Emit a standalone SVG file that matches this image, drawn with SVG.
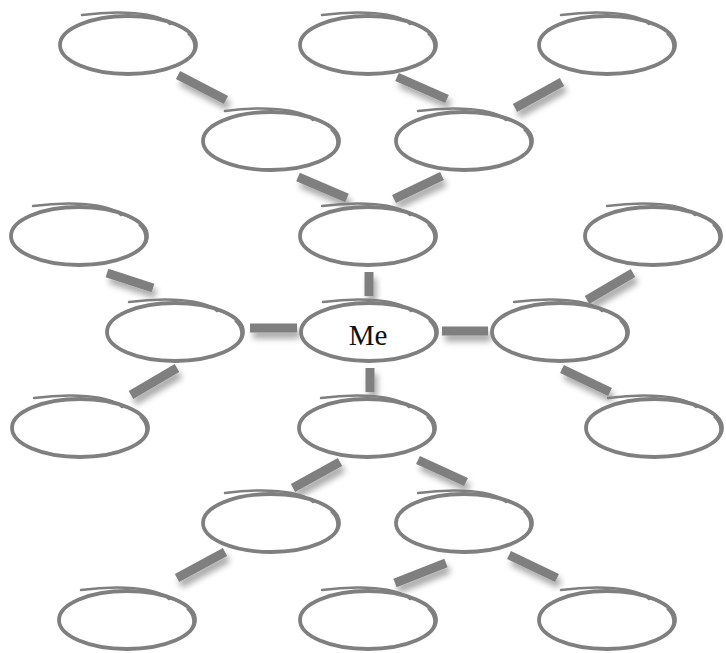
<svg xmlns="http://www.w3.org/2000/svg" xmlns:xlink="http://www.w3.org/1999/xlink" width="726" height="653" viewBox="0 0 726 653">
<style>
.bar{stroke:#7f7f7f;stroke-width:9;stroke-linecap:butt;fill:none}
.ov{fill:#fff;stroke:#7f7f7f;stroke-width:3.8}
.ovx{fill:none;stroke:#7f7f7f;stroke-width:2.5;stroke-linecap:round}
.lbl{font-family:"Liberation Serif","DejaVu Serif",serif;font-size:29px;fill:#111;text-anchor:middle}
</style>
<defs>
<filter id="sh" x="-50%" y="-50%" width="200%" height="200%">
<feGaussianBlur in="SourceAlpha" stdDeviation="3"/>
<feOffset dx="3" dy="6" result="b"/>
<feComponentTransfer><feFuncA type="linear" slope="0.35"/></feComponentTransfer>
<feMerge><feMergeNode/><feMergeNode in="SourceGraphic"/></feMerge>
</filter>
<g id="oval">
<ellipse class="ov" cx="0" cy="0" rx="68" ry="29"/>
<path d="M 60,-12 Q 72,0 62,12" fill="none" stroke="#7f7f7f" stroke-width="2.5"/>
<path class="ovx" d="M -46,-30 C -10,-35 30,-33 42,-21"/>
</g>
</defs>
<rect width="726" height="653" fill="#fff"/>
<g id="connectors" filter="url(#sh)">
<line class="bar" x1="178" y1="75" x2="226" y2="100"/>
<line class="bar" x1="397" y1="77" x2="447" y2="99"/>
<line class="bar" x1="562" y1="82" x2="515" y2="108"/>
<line class="bar" x1="298" y1="177" x2="347" y2="198"/>
<line class="bar" x1="442" y1="176" x2="394" y2="199"/>
<line class="bar" x1="369" y1="272" x2="369" y2="296"/>
<line class="bar" x1="107" y1="273" x2="153" y2="288"/>
<line class="bar" x1="250" y1="328" x2="297" y2="328"/>
<line class="bar" x1="442" y1="331" x2="488" y2="331"/>
<line class="bar" x1="633" y1="273" x2="587" y2="300"/>
<line class="bar" x1="177" y1="368" x2="131" y2="395"/>
<line class="bar" x1="370" y1="368" x2="370" y2="392"/>
<line class="bar" x1="562" y1="369" x2="610" y2="392"/>
<line class="bar" x1="340" y1="462" x2="293" y2="488"/>
<line class="bar" x1="418" y1="460" x2="466" y2="482"/>
<line class="bar" x1="225" y1="552" x2="177" y2="578"/>
<line class="bar" x1="446" y1="563" x2="395" y2="583"/>
<line class="bar" x1="509" y1="555" x2="557" y2="578"/>
</g>
<g id="n1"><use xlink:href="#oval" transform="translate(128,45)"/></g>
<g id="n2"><use xlink:href="#oval" transform="translate(368,45)"/></g>
<g id="n3"><use xlink:href="#oval" transform="translate(607,45)"/></g>
<g id="n4"><use xlink:href="#oval" transform="translate(271,141)"/></g>
<g id="n5"><use xlink:href="#oval" transform="translate(464,141)"/></g>
<g id="n6"><use xlink:href="#oval" transform="translate(368,236)"/></g>
<g id="n7"><use xlink:href="#oval" transform="translate(79,236)"/></g>
<g id="n8"><use xlink:href="#oval" transform="translate(653,236)"/></g>
<g id="n9"><use xlink:href="#oval" transform="translate(175,332)"/></g>
<g id="me"><use xlink:href="#oval" transform="translate(369,332)"/><text class="lbl" x="368" y="345">Me</text></g>
<g id="n10"><use xlink:href="#oval" transform="translate(560,332)"/></g>
<g id="n11"><use xlink:href="#oval" transform="translate(80,428)"/></g>
<g id="n12"><use xlink:href="#oval" transform="translate(367,428)"/></g>
<g id="n13"><use xlink:href="#oval" transform="translate(654,428)"/></g>
<g id="n14"><use xlink:href="#oval" transform="translate(271,523)"/></g>
<g id="n15"><use xlink:href="#oval" transform="translate(464,523)"/></g>
<g id="n16"><use xlink:href="#oval" transform="translate(127,620)"/></g>
<g id="n17"><use xlink:href="#oval" transform="translate(368,620)"/></g>
<g id="n18"><use xlink:href="#oval" transform="translate(607,620)"/></g>
</svg>
